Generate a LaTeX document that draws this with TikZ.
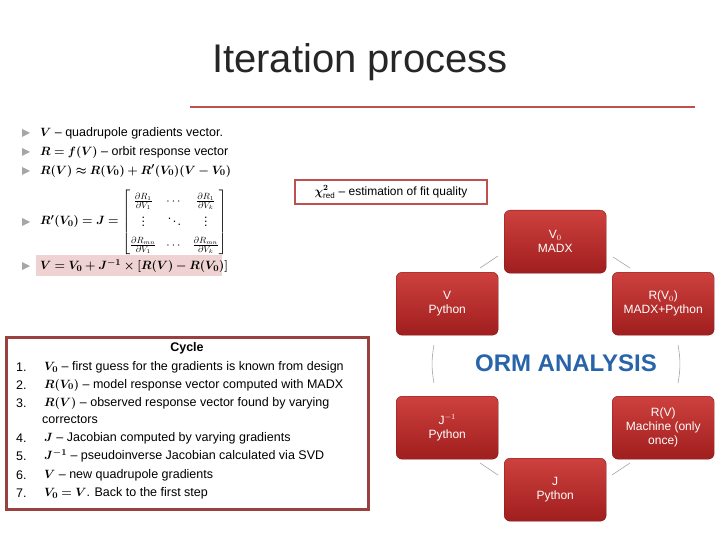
\documentclass[tikz,border=0pt]{standalone}
\usepackage{amsmath,bm}
\usepackage{fontspec}
\setmainfont{Liberation Sans}
\usetikzlibrary{calc}
\definecolor{rl}{RGB}{192,80,77}
\definecolor{boxtop}{RGB}{205,65,62}
\definecolor{boxbot}{RGB}{160,30,30}
\definecolor{orm}{RGB}{40,100,170}
\tikzset{
 rbox/.style={rounded corners=6pt,minimum width=102pt,minimum height=63pt,draw=boxbot!80!black,
   top color=boxtop,bottom color=boxbot,text=white,font=\fontsize{12}{14}\selectfont,align=center,anchor=north west,inner sep=1pt},
 conn/.style={draw=gray!70,line width=0.6pt},
 txt/.style={anchor=west,font=\fontsize{12.5}{14}\selectfont,inner sep=0pt}
}
\newcommand{\btri}[1]{\fill[gray!70] ($(#1)+(-18,-4)$) -- ++(0,8) -- ++(8,-4) -- cycle;}
\begin{document}
\begin{tikzpicture}[x=1pt,y=-1pt]
\useasboundingbox (0,0) rectangle (720,540);
\fill[white] (0,0) rectangle (720,540);
\node[font=\fontsize{40}{44}\selectfont,text=black!85] (title) at (360,62) {Iteration process};
\draw[rl,line width=2.5pt] (190,107) -- (695,107);
% bullets
\node[txt] (b1) at (40,133) {$\bm{V}$ -- quadrupole gradients vector.};
\node[txt] (b2) at (40,152) {$\bm{R=f(V)}$ -- orbit response vector};
\node[txt] (b3) at (40,171) {$\bm{R(V)\approx R(V_0)+R'(V_0)(V-V_0)}$};
\node[txt] (b4) at (40,222) {$\bm{R'(V_0)=J=}\left[\renewcommand{\arraystretch}{1.55}\begin{matrix}\frac{\partial R_1}{\partial V_1} & \cdots & \frac{\partial R_1}{\partial V_k}\\ \vdots & \ddots & \vdots\\ \frac{\partial R_{mn}}{\partial V_1} & \cdots & \frac{\partial R_{mn}}{\partial V_k}\end{matrix}\right]$};
\fill[rl!25] (36,255) rectangle (222,276);
\node[txt] (b5) at (40,266) {$\bm{V=V_0+J^{-1}\times[R(V)-R(V_0)]}$};
\foreach \n in {b1,b2,b3,b4,b5}{\btri{\n.west}}
% chi box
\node[draw=rl,line width=2pt,minimum width=192pt,minimum height=24pt,inner sep=0pt,font=\fontsize{12}{14}\selectfont] (chi) at (391,192) {$\bm{\chi^2_{\text{red}}}$ -- estimation of fit quality};
% cycle box
\node[draw=rl!80!black,line width=3pt,minimum width=362pt,minimum height=172pt,anchor=north west] (cyc) at (5,336) {};
\node[font=\bfseries\fontsize{12.5}{14}\selectfont] (ct) at (187,348) {Cycle};
\begin{scope}[every node/.style={txt}]
\node (n1) at (16,367) {1.}; \node at (44,367) {$\bm{V_0}$ -- first guess for the gradients is known from design};
\node (n2) at (16,385) {2.}; \node at (44,385) {$\bm{R(V_0)}$ -- model response vector computed with MADX};
\node (n3) at (16,403) {3.}; \node at (44,403) {$\bm{R(V)}$ -- observed response vector found by varying};
\node at (42,420) {correctors};
\node (n4) at (16,438) {4.}; \node at (44,438) {$\bm{J}$ -- Jacobian computed by varying gradients};
\node (n5) at (16,456) {5.}; \node at (44,456) {$\bm{J^{-1}}$ -- pseudoinverse Jacobian calculated via SVD};
\node (n6) at (16,475) {6.}; \node at (44,475) {$\bm{V}$ -- new quadrupole gradients};
\node (n7) at (16,493) {7.}; \node at (44,493) {$\bm{V_0=V}$. Back to the first step};
\end{scope}
% cycle diagram
\node[rbox] (v0) at (504,210) {V$_0$\\MADX};
\node[rbox] (v) at (396,272) {V\\Python};
\node[rbox] (rv0) at (612,272) {R(V$_0$)\\MADX+Python};
\node[rbox] (ji) at (396,396) {J$^{-1}$\\Python};
\node[rbox] (rv) at (612,396) {R(V)\\Machine (only\\once)};
\node[rbox] (j) at (504,458) {J\\Python};
\node[font=\bfseries\fontsize{24}{26}\selectfont,text=orm] (orm) at (566,363) {ORM ANALYSIS};
\coordinate (a1) at (480,268); \coordinate (a2) at (498,256);
\coordinate (a3) at (613,257); \coordinate (a4) at (630,268);
\coordinate (a5) at (434,345); \coordinate (a6) at (434,383);
\coordinate (a7) at (678,345); \coordinate (a8) at (678,383);
\coordinate (a9) at (480,463); \coordinate (a10) at (498,475);
\coordinate (a11) at (612,475); \coordinate (a12) at (630,463);
\draw[conn] (a1) -- (a2); \draw[conn] (a3) -- (a4);
\draw[conn] (a5) to[bend right=10] (a6); \draw[conn] (a7) to[bend left=10] (a8);
\draw[conn] (a9) -- (a10); \draw[conn] (a11) -- (a12);
\end{tikzpicture}
\end{document}
